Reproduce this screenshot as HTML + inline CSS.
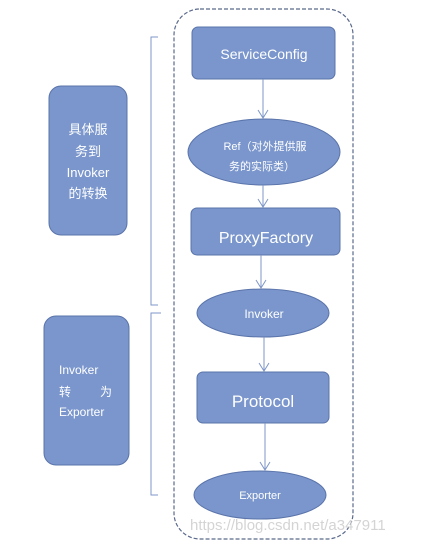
<!DOCTYPE html>
<html><head><meta charset="utf-8"><style>
html,body{margin:0;padding:0;background:#fff;width:422px;height:549px;overflow:hidden}
svg text{font-family:"Liberation Sans","Noto Sans CJK SC",sans-serif;fill:#fff}
</style></head><body>
<svg width="422" height="549" viewBox="0 0 422 549" xmlns="http://www.w3.org/2000/svg">
<rect x="174" y="9" width="179" height="530" rx="26" fill="none" stroke="#5b6a8c" stroke-width="1.2" stroke-dasharray="4,2"/>
<g fill="#7a96cc" stroke="#5a74aa" stroke-width="1">
<rect x="192" y="27" width="143" height="52" rx="6"/>
<ellipse cx="264" cy="152" rx="76" ry="33"/>
<rect x="191" y="208" width="149" height="47" rx="6"/>
<ellipse cx="263" cy="313" rx="66" ry="24"/>
<rect x="197" y="372" width="132" height="51" rx="6"/>
<ellipse cx="260" cy="495" rx="66" ry="24"/>
<rect x="49" y="86" width="78" height="149" rx="12"/>
<rect x="44" y="316" width="85" height="149" rx="12"/>
</g>
<g stroke="#7f97c8" stroke-width="1" fill="none">
<line x1="263" y1="79" x2="263" y2="118"/><path d="M258,110 L263,118 L268,110"/>
<line x1="263" y1="185" x2="263" y2="207"/><path d="M258,199 L263,207 L268,199"/>
<line x1="261" y1="255" x2="261" y2="288"/><path d="M256,280 L261,288 L266,280"/>
<line x1="264" y1="337" x2="264" y2="371"/><path d="M259,363 L264,371 L269,363"/>
<line x1="265" y1="423" x2="265" y2="470"/><path d="M260,462 L265,470 L270,462"/>
<path d="M158,37 H151 V305 H158"/>
<path d="M161,313 H151 V495 H158"/>
</g>
<text x="264" y="59" font-size="14" text-anchor="middle">ServiceConfig</text>
<text x="265" y="150" font-size="11" text-anchor="middle">Ref（对外提供服</text>
<text x="262" y="170" font-size="11" text-anchor="middle">务的实际类）</text>
<text x="266" y="243" font-size="16" text-anchor="middle">ProxyFactory</text>
<text x="264" y="318" font-size="12" text-anchor="middle">Invoker</text>
<text x="263" y="407" font-size="17" text-anchor="middle">Protocol</text>
<text x="260" y="499" font-size="11" text-anchor="middle">Exporter</text>
<g font-size="13" text-anchor="middle">
<text x="88" y="134">具体服</text>
<text x="88" y="156">务到</text>
<text x="88" y="177">Invoker</text>
<text x="88" y="198">的转换</text>
</g>
<g font-size="12">
<text x="59" y="374">Invoker</text>
<text x="59" y="396">转</text><text x="100" y="396">为</text>
<text x="59" y="416">Exporter</text>
</g>
<text x="190" y="530" font-size="15" style="fill:#d4d4d4">https://blog.csdn.net/a347911</text>
</svg>
</body></html>
